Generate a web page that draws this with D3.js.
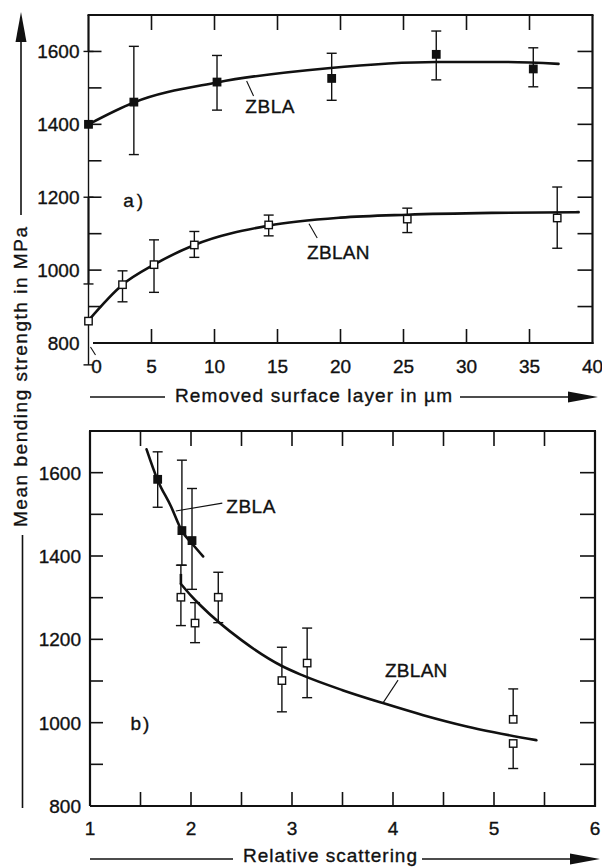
<!DOCTYPE html>
<html>
<head>
<meta charset="utf-8">
<script src="https://cdn.jsdelivr.net/npm/d3@7"></script>
<style>
  body { margin: 0; background: #fff; }
  text { font-family: "Liberation Sans", Arial, sans-serif; fill: #111; stroke: #111; stroke-width: 0.35; }
</style>
</head>
<body>
<div id="chart"></div>
<script>
// ---- panel a: strength vs removed surface layer (µm) ----
const aZblaX   = [0, 3.6, 10.2, 19.3, 27.6, 35.3];
const aZblaY   = [1400, 1461, 1516, 1526, 1592, 1552];
const aZblaLo  = [1200, 1317, 1439, 1466, 1522, 1503];
const aZblaHi  = [1600, 1614, 1589, 1595, 1656, 1610];

const aZblanX  = [0, 2.7, 5.2, 8.4, 14.3, 25.3, 37.2];
const aZblanY  = [860, 960, 1015, 1069, 1124, 1140, 1143];
const aZblanLo = [740, 913, 939, 1035, 1094, 1103, 1060];
const aZblanHi = [962, 998, 1083, 1106, 1151, 1170, 1228];

// fitted curves
const aZblaFitX  = [0, 3.6, 10.2, 19, 27.6, 33, 37.3];
const aZblaFitY  = [1400, 1460, 1515, 1554, 1571, 1571, 1566];
const aZblanFitX = [0, 2.7, 5.2, 8.4, 14.3, 20, 25.3, 32, 38.9];
const aZblanFitY = [862, 960, 1015, 1069, 1122, 1144, 1152, 1157, 1159];

// ---- panel b: strength vs relative scattering ----
const bZblaX   = [1.67, 1.91, 2.01];
const bZblaY   = [1584, 1461, 1437];
const bZblaLo  = [1517, 1378, 1320];
const bZblaHi  = [1650, 1630, 1562];

const bZblanX  = [1.90, 2.04, 2.27, 2.90, 3.15, 5.19, 5.19];
const bZblanY  = [1301, 1239, 1301, 1101, 1143, 1008, 950];
const bZblanLo = [1233, 1192, 1240, 1026, 1060, null, 890];
const bZblanHi = [1378, 1288, 1361, 1181, 1227, 1081, null];

const bZblaFitX  = [1.56, 1.67, 1.8, 1.91, 2.01, 2.12];
const bZblaFitY  = [1656, 1582, 1520, 1460, 1430, 1399];
const bZblanFitX = [1.9, 2.0, 2.1, 2.5, 2.9, 3.1, 3.5, 3.9, 4.3, 4.73, 5.0, 5.42];
const bZblanFitY = [1333, 1305, 1280, 1198, 1136, 1114, 1078, 1047, 1018, 991, 977, 958];
const bZblanStepY = [1357, 1333];   // short vertical start of the ZBLAN fit at x = 1.9

// ticks
const aMinorX = d3.range(5, 40, 5);
const aLabelX = d3.range(0, 45, 5);
const bMinorX = d3.range(1.5, 6, 0.5);
const bLabelX = [1, 2, 3, 4, 5, 6];
const minorY  = d3.range(900, 1700, 100);
const labelY  = [800, 1000, 1200, 1400, 1600];

const W = 602, H = 867;
const FS = 19;
const svg = d3.select("#chart").append("svg")
    .attr("width", W)
    .attr("height", H);

const zip = (xs, ys) => xs.map((x, i) => [x, ys[i]]);

function arrow(g, x1, y1, x2, y2) {
    // straight line ending in a solid arrow head at (x2, y2)
    let ang = Math.atan2(y2 - y1, x2 - x1), len = 30, half = 5.5;
    let bx = x2 - len * Math.cos(ang), by = y2 - len * Math.sin(ang);
    g.append("line")
        .attr("x1", x1).attr("y1", y1).attr("x2", bx).attr("y2", by)
        .attr("stroke", "#111").attr("stroke-width", 1.6);
    let px = -Math.sin(ang) * half, py = Math.cos(ang) * half;
    g.append("path")
        .attr("d", `M${x2},${y2}L${bx + px},${by + py}L${bx - px},${by - py}Z`)
        .attr("fill", "#111");
}

function panel(cfg) {
    let x = d3.scaleLinear().domain(cfg.xDomain).range(cfg.xRange);
    let y = d3.scaleLinear().domain([800, 1700]).range(cfg.yRange);
    let g = svg.append("g");
    let [x0, x1] = cfg.xRange, [yb, yt] = cfg.yRange;

    // frame
    let frame = g.append("g").attr("stroke", "#111").attr("stroke-width", 2.2).attr("fill", "none");
    frame.append("line").attr("x1", x0 - 1).attr("x2", x1 + 1).attr("y1", yt).attr("y2", yt);
    frame.append("line").attr("x1", x1).attr("x2", x1).attr("y1", yt).attr("y2", yb + 1);
    frame.append("line").attr("x1", cfg.bottomStart ?? x0).attr("x2", x1 + 1).attr("y1", yb).attr("y2", yb);
    (cfg.leftSegments ?? [[800, 1700]]).forEach(s => {
        frame.append("line").attr("x1", x0).attr("x2", x0).attr("y1", y(s[0])).attr("y2", y(s[1]));
    });

    // inward ticks on all four sides
    let tk = g.append("g").attr("stroke", "#111").attr("stroke-width", 1.6);
    cfg.minorX.forEach(v => {
        tk.append("line").attr("x1", x(v)).attr("x2", x(v)).attr("y1", yt).attr("y2", yt + 15);
        tk.append("line").attr("x1", x(v)).attr("x2", x(v)).attr("y1", yb).attr("y2", yb - 14);
    });
    minorY.forEach(v => {
        tk.append("line").attr("x1", x0).attr("x2", x0 + 13).attr("y1", y(v)).attr("y2", y(v));
        tk.append("line").attr("x1", x1).attr("x2", x1 - 15).attr("y1", y(v)).attr("y2", y(v));
    });

    // tick labels
    g.append("g").selectAll("text")
        .data(labelY)
        .join("text")
        .attr("x", x0 - 9)
        .attr("y", d => y(d))
        .attr("dy", "0.36em")
        .attr("text-anchor", "end")
        .attr("font-size", FS)
        .text(d => d);
    g.append("g").selectAll("text")
        .data(cfg.labelX)
        .join("text")
        .attr("x", d => x(d) + (cfg.zeroShift && d === 0 ? cfg.zeroShift : 0))
        .attr("y", yb + cfg.labelDy)
        .attr("text-anchor", "middle")
        .attr("font-size", FS)
        .text(d => d);

    // fitted curves
    let line = d3.line().x(d => x(d[0])).y(d => y(d[1])).curve(d3.curveMonotoneX);
    cfg.fits.forEach(f => {
        g.append("path")
            .attr("d", line(f))
            .attr("fill", "none")
            .attr("stroke", "#111")
            .attr("stroke-width", 2.6)
            .attr("stroke-linecap", "round");
    });
    (cfg.extraLines ?? []).forEach(f => {
        g.append("path")
            .attr("d", d3.line().x(d => x(d[0])).y(d => y(d[1]))(f))
            .attr("fill", "none").attr("stroke", "#111").attr("stroke-width", 2.6);
    });

    // error bars + markers
    cfg.series.forEach(s => {
        let pts = s.x.map((v, i) => ({x: v, y: s.y[i], lo: s.lo[i], hi: s.hi[i]}));
        let eb = g.append("g").attr("stroke", "#111").attr("stroke-width", 1.4);
        pts.forEach(p => {
            let top = p.hi ?? p.y, bot = p.lo ?? p.y;
            eb.append("line").attr("x1", x(p.x)).attr("x2", x(p.x)).attr("y1", y(top)).attr("y2", y(bot));
            [p.hi, p.lo].forEach(c => {
                if (c == null) return;
                eb.append("line").attr("x1", x(p.x) - 5).attr("x2", x(p.x) + 5).attr("y1", y(c)).attr("y2", y(c));
            });
        });
        g.append("g").selectAll("rect")
            .data(pts)
            .join("rect")
            .attr("x", d => x(d.x) - 3.7)
            .attr("y", d => y(d.y) - 3.7)
            .attr("width", 7.4)
            .attr("height", 7.4)
            .attr("fill", s.filled ? "#111" : "#fff")
            .attr("stroke", "#111")
            .attr("stroke-width", 1.4);
    });

    // labels with leader lines
    cfg.notes.forEach(n => {
        if (n.lead) {
            g.append("line")
                .attr("x1", x(n.lead[0])).attr("y1", y(n.lead[1]))
                .attr("x2", x(n.lead[2])).attr("y2", y(n.lead[3]))
                .attr("stroke", "#111").attr("stroke-width", 1.1);
        }
        g.append("text")
            .attr("x", x(n.at[0]))
            .attr("y", y(n.at[1]))
            .attr("font-size", FS)
            .attr("letter-spacing", n.ls ?? 0)
            .text(n.text);
    });
    return {x, y, g};
}

// panel a
let pa = panel({
    xDomain: [0, 40], xRange: [88.5, 592.5], yRange: [343, 15],
    minorX: aMinorX, labelX: aLabelX, labelDy: 30, zeroShift: 8,
    bottomStart: 93,
    leftSegments: [[1600, 1700], [962, 1200]],
    fits: [zip(aZblaFitX, aZblaFitY), zip(aZblanFitX, aZblanFitY)],
    series: [
        {x: aZblaX, y: aZblaY, lo: aZblaLo, hi: aZblaHi, filled: true},
        {x: aZblanX, y: aZblanY, lo: aZblanLo, hi: aZblanHi, filled: false}
    ],
    notes: [
        {text: "ZBLA", at: [12.45, 1431], lead: [12.55, 1519, 13.1, 1478], ls: 0.5},
        {text: "ZBLAN", at: [17.35, 1030], lead: [17.5, 1127, 18.15, 1088], ls: 0.3},
        {text: "a)", at: [2.75, 1173], ls: 3}
    ]
});
// little leader from the axis corner to the displaced "0"
pa.g.append("line")
    .attr("x1", pa.x(0) + 2).attr("y1", pa.y(800) + 4)
    .attr("x2", pa.x(0) + 7).attr("y2", pa.y(800) + 12)
    .attr("stroke", "#111").attr("stroke-width", 1.1);

// panel b
panel({
    xDomain: [1, 6], xRange: [90, 595], yRange: [806, 431],
    minorX: bMinorX, labelX: bLabelX, labelDy: 29,
    fits: [zip(bZblaFitX, bZblaFitY), zip(bZblanFitX, bZblanFitY)],
    extraLines: [[[1.9, bZblanStepY[0]], [1.9, bZblanStepY[1]]]],
    series: [
        {x: bZblaX, y: bZblaY, lo: bZblaLo, hi: bZblaHi, filled: true},
        {x: bZblanX, y: bZblanY, lo: bZblanLo, hi: bZblanHi, filled: false}
    ],
    notes: [
        {text: "ZBLA", at: [2.35, 1504], lead: [1.85, 1508, 2.31, 1527], ls: 0.5},
        {text: "ZBLAN", at: [3.92, 1110], lead: [4.05, 1102, 3.9, 1047], ls: 0.3},
        {text: "b)", at: [1.4, 982], ls: 2}
    ]
});

// axis titles with arrows
let t = svg.append("g");
t.append("text")
    .attr("transform", "translate(27,377) rotate(-90)")
    .attr("text-anchor", "middle")
    .attr("font-size", FS)
    .attr("textLength", 300)
    .attr("lengthAdjust", "spacing")
    .text("Mean bending strength in MPa");
arrow(t, 21, 215, 21, 12);
t.append("line").attr("x1", 22.5).attr("x2", 22.5).attr("y1", 535).attr("y2", 808)
    .attr("stroke", "#111").attr("stroke-width", 1.6);

t.append("text")
    .attr("x", 175).attr("y", 402)
    .attr("font-size", FS)
    .attr("textLength", 277)
    .attr("lengthAdjust", "spacing")
    .text("Removed surface layer in µm");
t.append("line").attr("x1", 90).attr("x2", 165).attr("y1", 397).attr("y2", 397)
    .attr("stroke", "#111").attr("stroke-width", 1.6);
arrow(t, 460, 397, 598, 397);

t.append("text")
    .attr("x", 243).attr("y", 862)
    .attr("font-size", FS)
    .attr("textLength", 174)
    .attr("lengthAdjust", "spacing")
    .text("Relative scattering");
t.append("line").attr("x1", 90).attr("x2", 233).attr("y1", 859).attr("y2", 859)
    .attr("stroke", "#111").attr("stroke-width", 1.6);
arrow(t, 422, 859, 600, 859);
</script>
</body>
</html>
